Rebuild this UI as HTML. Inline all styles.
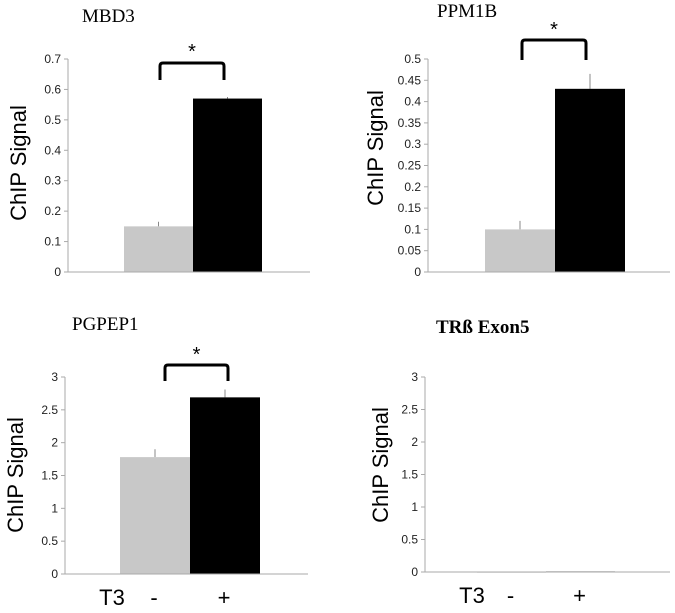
<!DOCTYPE html>
<html><head><meta charset="utf-8"><style>
body{margin:0;background:#fff;}
svg text{font-family:"Liberation Sans",sans-serif;}
.t{font-family:"Liberation Serif",serif;font-size:19px;}
</style></head><body>
<svg id="c" width="675" height="608"></svg>
<script>
const titles=["MBD3","PPM1B","PGPEP1","TRß Exon5"];
const minusVals=[0.15,0.1,1.78,0.005];
const plusVals=[0.57,0.43,2.69,0.01];
const minusErr=[0.015,0.02,0.12,0];
const plusErr=[0.005,0.035,0.12,0];
const yMax=[0.7,0.5,3,3];
const yStep=[0.1,0.05,0.5,0.5];
const sig=[true,true,true,false];
const tickDecimals=[1,2,1,1];
const P=[
 {ax:68,x1:310,y0:272,yt:59,b:124,bw:69,tx:82,ty:22,lx:18,ly:163,br:[160,224,63,80],st:58},
 {ax:428,x1:670,y0:272,yt:59,b:485,bw:70,tx:437,ty:17,lx:375,ly:148,br:[522,586,40,60],st:36},
 {ax:65,x1:308,y0:574,yt:377,b:120,bw:70,tx:72,ty:330,lx:15,ly:475,br:[165,228,365,381],st:361},
 {ax:425,x1:670,y0:572,yt:377,b:477,bw:69,tx:436,ty:333,lx:380,ly:465}
];
const svg=document.getElementById('c');
const NS='http://www.w3.org/2000/svg';
function mk(tag,a,txt){const e=document.createElementNS(NS,tag);for(const k in a)e.setAttribute(k,a[k]);if(txt!==undefined)e.textContent=txt;svg.appendChild(e);return e;}
function fmt(v,d){let s=v.toFixed(d);s=s.replace(/\.?0+$/,'');return s===''?'0':s;}
P.forEach((p,i)=>{
 const y=v=>p.y0-(v/yMax[i])*(p.y0-p.yt);
 let e=mk('text',{x:p.tx,y:p.ty,class:'t','font-weight':i===3?'bold':'normal'},titles[i]);
 
 e=mk('line',{x1:p.ax,y1:p.yt,x2:p.ax,y2:p.y0,stroke:'#aaa','stroke-width':1});
 
 const n=Math.round(yMax[i]/yStep[i]);
 for(let k=0;k<=n;k++){const v=k*yStep[i];const yy=y(v);
  mk('line',{x1:p.ax-4,y1:yy,x2:p.ax,y2:yy,stroke:'#aaa'});
  e=mk('text',{x:p.ax-7,y:yy+4,'text-anchor':'end','font-size':12,fill:'#222'},fmt(v,tickDecimals[i]));
  }
 e=mk('text',{x:p.lx,y:p.ly,'text-anchor':'middle','font-size':22,transform:`rotate(-90 ${p.lx} ${p.ly})`,dy:8},'ChIP Signal');
 
 [[minusVals,minusErr,'#c8c8c8','bar-minus-t3'],[plusVals,plusErr,'#000','bar-plus-t3']].forEach((s,j)=>{
  const x=p.b+j*p.bw,v=s[0][i],top=y(v);
  if(s[1][i]>0){const ex=x+p.bw/2;mk('line',{x1:ex,y1:y(v+s[1][i]),x2:ex,y2:top,stroke:'#888'});}
  e=mk('rect',{x:x,y:top,width:p.bw,height:Math.max(p.y0-top,1),fill:i===3&&j===1?'#666':s[2]});
  
 });
 e=mk('line',{x1:p.ax,y1:p.y0,x2:p.x1,y2:p.y0,stroke:'#aaa'});
 
 if(sig[i]){const b=p.br;
  e=mk('path',{d:`M${b[0]} ${b[3]} L${b[0]} ${b[2]+3} Q${b[0]} ${b[2]} ${b[0]+3} ${b[2]} L${b[1]-3} ${b[2]} Q${b[1]} ${b[2]} ${b[1]} ${b[2]+3} L${b[1]} ${b[3]}`,fill:'none',stroke:'#000','stroke-width':3});
  
  e=mk('text',{x:(b[0]+b[1])/2,y:p.st,'text-anchor':'middle','font-size':20},'*');
  }
 if(i>=2){
  e=mk('text',{x:p.ax+47,y:p.y0+31,'text-anchor':'middle','font-size':22},'T3');
  
  e=mk('text',{x:p.b+p.bw/2-1,y:p.y0+31,'text-anchor':'middle','font-size':22},'-');
  
  e=mk('text',{x:p.b+p.bw*1.5-1,y:p.y0+31,'text-anchor':'middle','font-size':22},'+');
  }
});
</script>
</body></html>
